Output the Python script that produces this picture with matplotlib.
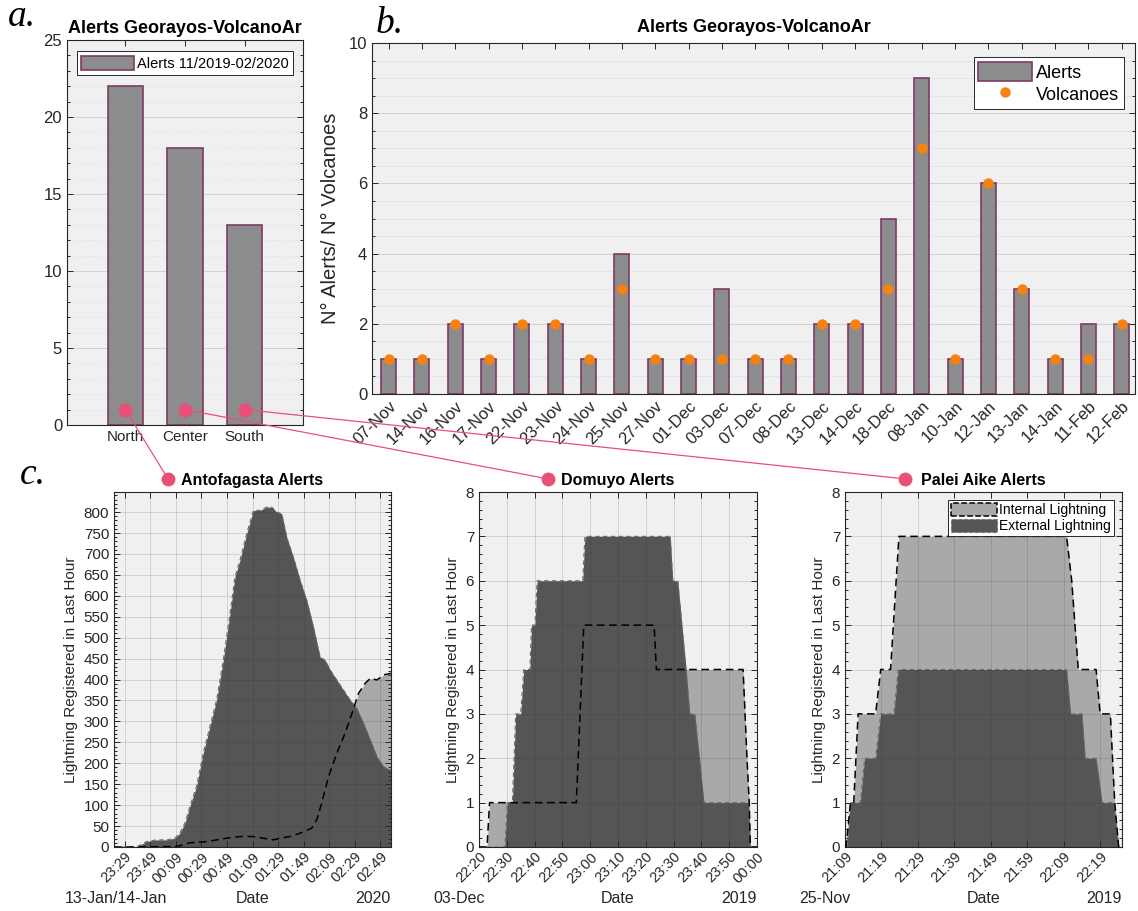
import matplotlib
matplotlib.use('Agg')
import matplotlib.pyplot as plt
import numpy as np
from matplotlib.patches import ConnectionPatch, Patch
from matplotlib.ticker import MultipleLocator

plt.rcParams['font.family'] = ['Liberation Sans', 'DejaVu Sans']

# ---------------- data ----------------
regions = ['North', 'Center', 'South']
region_alerts = [22, 18, 13]

dates = ['07-Nov', '14-Nov', '16-Nov', '17-Nov', '22-Nov', '23-Nov', '24-Nov', '25-Nov',
         '27-Nov', '01-Dec', '03-Dec', '07-Dec', '08-Dec', '13-Dec', '14-Dec', '18-Dec',
         '08-Jan', '10-Jan', '12-Jan', '13-Jan', '14-Jan', '11-Feb', '12-Feb']
alerts = [1, 1, 2, 1, 2, 2, 1, 4, 1, 1, 3, 1, 1, 2, 2, 5, 9, 1, 6, 3, 1, 2, 2]
volcanoes = [1, 1, 2, 1, 2, 2, 1, 3, 1, 1, 1, 1, 1, 2, 2, 3, 7, 1, 6, 3, 1, 1, 2]

# Antofagasta (minutes after 23:29, 13-Jan)
anto_ext_t = [-8.4, 0, 9.2, 17, 24.8, 32.7, 39.2, 43.1, 47.1, 51, 56.2, 61.4, 66.7, 71.9, 77.1,
              82.4, 86.3, 90.2, 95.4, 100.7, 105.9, 111.1, 115, 119, 122.9, 126.8, 132, 137.3,
              142.5, 147.7, 152.9, 156.9, 160.8, 166, 171.2, 176.5, 181.7, 186.9, 192.2, 197.4,
              202.6, 208.4]
anto_ext_v = [0, 0, 0, 13, 17, 17, 21, 33, 57, 97, 145, 224, 288, 351, 446,
              558, 645, 685, 748, 804, 804, 812, 812, 800, 796, 740, 692, 637,
              589, 526, 454, 446, 423, 399, 375, 351, 331, 296, 256, 216,
              192, 184]
anto_int_t = [-8.4, 0, 40.5, 51, 64, 79.7, 90.2, 100.7, 108.5, 116.3, 121.6, 129.4, 137.3, 146.4,
              150.3, 154.2, 159.5, 166, 172.5, 177.8, 183, 188.2, 192.2, 197.4, 202.6, 208.4]
anto_int_v = [0, 0, 1, 10, 13, 21, 25, 25, 21, 17, 21, 25, 33, 45,
              65, 105, 168, 224, 272, 319, 367, 391, 403, 399, 411, 415]
anto_ticks = ['23:29', '23:49', '00:09', '00:29', '00:49', '01:09', '01:29', '01:49',
              '02:09', '02:29', '02:49']

# Domuyo (minutes after 22:20, 03-Dec)
dom_int_t = [0, 2.9, 3.8, 35, 37.7, 63, 63.8, 95, 96.4, 97.2, 97.6, 100]
dom_int_v = [0, 0, 1, 1, 5, 5, 4, 4, 2, 1, 0, 0]
dom_ext_t = [0, 9.3, 10.2, 12.0, 13.2, 15.0, 16.1, 18.3, 18.9, 20.1, 20.9, 37.3, 38.1, 68.8,
             69.7, 71.5, 74.5, 75.8, 77.6, 79.3, 80.9, 97.0, 97.6, 100]
dom_ext_v = [0, 0, 1, 1, 3, 3, 4, 4, 5, 5, 6, 6, 7, 7,
             6, 6, 4, 3, 3, 2, 1, 1, 0, 0]
dom_ticks = ['22:20', '22:30', '22:40', '22:50', '23:00', '23:10', '23:20', '23:30',
             '23:40', '23:50', '00:00']

# Palei Aike (minutes after 21:09, 25-Nov)
pal_int_t = [0, 0.3, 1.5, 2.4, 3.6, 8.4, 9.8, 12.5, 14.8, 60.8, 62.2, 64.0, 68.9, 70.0,
             72.8, 74.0, 75.1, 76]
pal_int_v = [0, 0, 1, 1, 3, 3, 4, 4, 7, 7, 6, 4, 4, 3, 3, 1, 0, 0]
pal_ext_t = [0, 0.55, 1.5, 4.2, 5.4, 8.4, 9.8, 13.4, 14.6, 60.8, 61.9, 65.0, 65.9, 68.9,
             70.5, 73.7, 75.1, 76]
pal_ext_v = [0, 0, 1, 1, 2, 2, 3, 3, 4, 4, 3, 3, 2, 2, 1, 1, 0, 0]
pal_ticks = ['21:09', '21:19', '21:29', '21:39', '21:49', '21:59', '22:09', '22:19']

# ---------------- style ----------------
W, H = 1138, 911
fig = plt.figure(figsize=(W / 100, H / 100), dpi=100)
fig.patch.set_facecolor('white')

AXBG = '#f0f0f0'
TXT = '#262626'
BARFACE = '#8c8c8c'
BAREDGE = '#7d3a66'
ORANGE = '#f7820f'
PINK = '#e8507a'
DARK = '#555555'
LIGHT = '#a9a9a9'


def px_axes(l, t, r, b):
    return fig.add_axes([l / W, 1 - b / H, (r - l) / W, (b - t) / H])


def style(ax, fs=11):
    ax.set_facecolor(AXBG)
    for s in ax.spines.values():
        s.set_color(TXT)
        s.set_linewidth(0.8)
    ax.tick_params(which='both', direction='in', top=True, right=True,
                   colors=TXT, labelsize=fs, width=0.7)
    ax.tick_params(which='major', length=4)
    ax.tick_params(which='minor', length=2)


# ---------------- panel a ----------------
axa = px_axes(67, 40, 303, 425)
style(axa, 12)
xa = np.arange(1, len(regions) + 1)
axa.bar(xa, region_alerts, width=0.6, color=BARFACE, edgecolor=BAREDGE, linewidth=1.2,
        label='Alerts 11/2019-02/2020', zorder=2)
axa.plot(xa, [1] * len(xa), 'o', color=PINK, ms=9, zorder=4, clip_on=False)
axa.set_xlim(0.02, 3.98)
axa.set_ylim(0, 25)
axa.set_xticks(xa)
axa.set_xticklabels(regions)
axa.tick_params(axis='x', labelsize=11)
axa.yaxis.set_major_locator(MultipleLocator(5))
axa.yaxis.set_minor_locator(MultipleLocator(1))
axa.grid(axis='y', which='major', color=TXT, alpha=0.15, lw=0.7)
axa.grid(axis='y', which='minor', color=TXT, alpha=0.10, lw=0.5, ls=':')
axa.set_axisbelow(True)
axa.set_title('Alerts Georayos-VolcanoAr', fontsize=13, fontweight='bold', color='black', pad=5)
leg = axa.legend(loc='upper center', bbox_to_anchor=(0.5, 0.99), fontsize=10.5,
                 handlelength=3.6, handleheight=1.2, handletextpad=0.2, borderpad=0.3,
                 fancybox=False, edgecolor=TXT, framealpha=1)
leg.get_frame().set_linewidth(0.7)

# ---------------- panel b ----------------
axb = px_axes(372, 43, 1135, 394)
style(axb, 12)
xb = np.arange(1, len(dates) + 1)
hb = axb.bar(xb, alerts, width=0.45, color=BARFACE, edgecolor=BAREDGE, linewidth=1.2,
             label='Alerts', zorder=2)
hv, = axb.plot(xb, volcanoes, 'o', color=ORANGE, ms=6.5, label='Volcanoes', zorder=3, ls='none')
axb.set_xlim(0.5, 23.4)
axb.set_ylim(0, 10)
axb.set_xticks(xb)
axb.set_xticklabels(dates, rotation=45, ha='right', rotation_mode='anchor')
axb.tick_params(axis='x', labelsize=12, pad=3)
axb.yaxis.set_major_locator(MultipleLocator(2))
axb.yaxis.set_minor_locator(MultipleLocator(0.5))
axb.grid(axis='y', which='major', color=TXT, alpha=0.15, lw=0.7)
axb.grid(axis='y', which='minor', color=TXT, alpha=0.08, lw=0.5)
axb.set_axisbelow(True)
axb.set_title('Alerts Georayos-VolcanoAr', fontsize=13, fontweight='bold', color='black', pad=8)
axb.set_ylabel('N° Alerts/ N° Volcanoes', fontsize=14.5, color=TXT, labelpad=6)
leg = axb.legend([hb, hv], ['Alerts', 'Volcanoes'], loc='upper right',
                 bbox_to_anchor=(0.997, 0.985), fontsize=13,
                 handlelength=3.0, handleheight=1.3, handletextpad=0.2, borderpad=0.25,
                 labelspacing=0.15, fancybox=False, edgecolor=TXT, framealpha=1)
leg.get_frame().set_linewidth(0.7)


# ---------------- panel c ----------------
def lightning(ax, ti, vi, te, ve, ticks, step, ylim, ymaj, ymin, xlim, title, dotx,
              left_lab, right_lab, lab_x):
    style(ax, 11)
    ax.fill_between(ti, vi, color=LIGHT, lw=0, zorder=1)
    ax.fill_between(te, ve, color=DARK, lw=0, zorder=2)
    ax.plot(te, ve, color='#6a6a6a', lw=0.8, ls=(0, (4, 3)), zorder=3)
    ax.plot(ti, vi, color='black', lw=1.1, ls=(0, (5, 3)), zorder=4)
    ax.set_xlim(*xlim)
    ax.set_ylim(*ylim)
    pos = np.arange(len(ticks)) * step
    ax.set_xticks(pos)
    ax.set_xticklabels(ticks, rotation=45, ha='right', rotation_mode='anchor')
    ax.tick_params(axis='x', labelsize=10.5, pad=2)
    ax.yaxis.set_major_locator(MultipleLocator(ymaj))
    ax.yaxis.set_minor_locator(MultipleLocator(ymin))
    ax.grid(which='major', color=TXT, alpha=0.15, lw=0.7)
    ax.set_axisbelow(False)
    ax.set_ylabel('Lightning Registered in Last Hour', fontsize=11, color=TXT, labelpad=4)
    ax.set_title(title, fontsize=11.5, fontweight='bold', color='black', pad=5)
    ax.plot([dotx], [1.037], 'o', color=PINK, ms=9, transform=ax.transAxes, clip_on=False)
    ax.text(lab_x, -0.145, left_lab, transform=ax.transAxes, ha='left', va='center',
            fontsize=11.5, color=TXT)
    ax.text(0.5, -0.145, 'Date', transform=ax.transAxes, ha='center', va='center',
            fontsize=11.5, color=TXT)
    ax.text(1.0, -0.145, right_lab, transform=ax.transAxes, ha='right', va='center',
            fontsize=11.5, color=TXT)


axc1 = px_axes(114, 492, 391, 847)
lightning(axc1, anto_int_t, anto_int_v, anto_ext_t, anto_ext_v, anto_ticks, 20,
          (0, 848), 50, 10, (-8.4, 208.4), 'Antofagasta Alerts', 0.195,
          '13-Jan/14-Jan', '2020', -0.177)

axc2 = px_axes(479, 492, 757, 847)
lightning(axc2, dom_int_t, dom_int_v, dom_ext_t, dom_ext_v, dom_ticks, 10,
          (0, 8), 1, 0.2, (0, 100), 'Domuyo Alerts', 0.248,
          '03-Dec', '2019', -0.165)

axc3 = px_axes(845, 492, 1122, 847)
lightning(axc3, pal_int_t, pal_int_v, pal_ext_t, pal_ext_v, pal_ticks, 10,
          (0, 8), 1, 0.2, (0, 76), 'Palei Aike Alerts', 0.217,
          '25-Nov', '2019', -0.166)
handles = [Patch(facecolor=LIGHT, edgecolor='black', linestyle='--', linewidth=1.1),
           Patch(facecolor=DARK, edgecolor='#777777', linestyle='--', linewidth=0.8)]
leg = axc3.legend(handles, ['Internal Lightning', 'External Lightning'], loc='upper right',
                  bbox_to_anchor=(0.995, 0.997), fontsize=10, handlelength=3.3,
                  handleheight=1.1, handletextpad=0.15, borderpad=0.2, labelspacing=0.1,
                  fancybox=False, edgecolor=TXT, framealpha=1)
leg.get_frame().set_linewidth(0.7)

# ---------------- connectors ----------------
for xv, axc, dx in [(1, axc1, 0.195), (2, axc2, 0.248), (3, axc3, 0.217)]:
    cp = ConnectionPatch(xyA=(xv, 1), coordsA=axa.transData, xyB=(dx, 1.037),
                         coordsB=axc.transAxes, color=PINK, lw=0.9, zorder=10)
    fig.add_artist(cp)

# ---------------- panel letters ----------------
for x, y, s in [(8, 26, 'a.'), (376, 33, 'b.'), (20, 484, 'c.')]:
    fig.text(x / W, 1 - y / H, s, fontsize=27, family='Liberation Serif', style='italic',
             va='baseline', ha='left')

fig.savefig('out.png', dpi=100)
